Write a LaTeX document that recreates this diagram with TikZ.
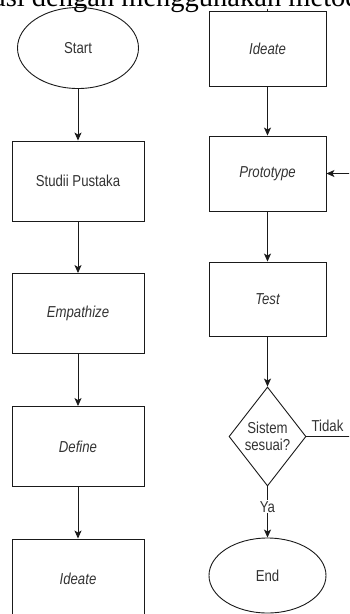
\documentclass[tikz,border=0pt]{standalone}
\usepackage{fontspec}
\usepackage{graphicx}
\setmainfont{Liberation Sans}
\newfontfamily\serifdoc{Liberation Serif}
\usetikzlibrary{shapes.geometric,arrows.meta}
\definecolor{ln}{HTML}{1A1A1A}
\definecolor{tx}{HTML}{333333}
\newcommand\vstr[1]{\scalebox{1}[1.2]{#1}}
\begin{document}
\begin{tikzpicture}[x=1pt,y=-1pt,
  lbl/.style={text=tx,font=\fontsize{13.2}{16}\selectfont},
  box/.style={lbl,draw=ln,line width=0.9pt,rectangle,minimum width=132pt,minimum height=80pt,inner sep=0pt},
  rbox/.style={box,minimum width=117pt,minimum height=75pt},
  oval/.style={lbl,draw=ln,line width=0.9pt,ellipse,inner sep=0pt},
  dia/.style={lbl,draw=ln,line width=0.9pt,diamond,aspect=0.78,minimum width=77pt,minimum height=99pt,inner sep=0pt,align=center},
  conn/.style={draw=ln,line width=0.9pt,-{Stealth[length=8pt,width=7pt,inset=2pt]}},
  plain/.style={draw=ln,line width=0.9pt}
]
\useasboundingbox (0,0) rectangle (349,614);
\clip (0,0) rectangle (349,614);
\fill[white] (0,0) rectangle (349,614);

\node[anchor=base west,inner sep=0pt,font=\serifdoc\fontsize{28.5}{30}\selectfont] (doc) at (-7,6) {asi dengan menggunakan metode};

% left column
\node[oval,minimum width=121pt,minimum height=81pt] (start) at (78,48) {\vstr{Start}};
\node[box] (studi) at (78,181) {\vstr{Studii Pustaka}};
\node[box] (emp) at (78,313.5) {\vstr{\itshape Empathize}};
\node[box] (def) at (78,446.5) {\vstr{\itshape Define}};
\node[box] (ideL) at (78,579) {\vstr{\itshape Ideate}};

% right column
\coordinate (topin) at (267.5,8.5);
\node[rbox] (ideR) at (267.5,48.5) {\vstr{\itshape Ideate}};
\node[rbox] (proto) at (267.5,173.5) {\vstr{\itshape Prototype}};
\node[rbox,minimum height=74pt] (test) at (267.5,299) {\vstr{\itshape Test}};
\node[dia] (cek) at (267.5,436.5) {\vstr{Sistem}\\[1pt]\vstr{sesuai?}};
\node[oval,minimum width=117pt,minimum height=75pt] (end) at (267.5,575.5) {\vstr{End}};
\coordinate (rt) at (353,436.5);
\coordinate (rt2) at (353,173.5);

\draw[conn] (start) -- (studi);
\draw[conn] (studi) -- (emp);
\draw[conn] (emp) -- (def);
\draw[conn] (def) -- (ideL);

\draw[plain] (topin) -- (ideR.north);
\draw[conn] (ideR) -- (proto);
\draw[conn] (proto) -- (test);
\draw[conn] (test) -- (cek);
\draw[conn] (cek) -- node[lbl,fill=white,inner sep=1pt,pos=0.4] (ya) {\vstr{Ya}} (end);
\draw[conn] (cek.east) -- (rt) -- (rt2) -- (proto.east);
\node[lbl] (tidak) at (327.5,425.5) {\vstr{Tidak}};
\end{tikzpicture}
\end{document}
